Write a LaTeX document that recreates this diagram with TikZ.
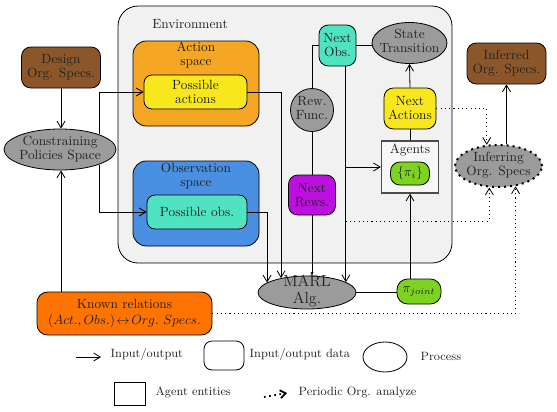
\documentclass[tikz,border=0pt]{standalone}
\usetikzlibrary{arrows.meta,shapes.geometric,calc}
\newcommand{\pxu}{0.75pt}
\newcommand{\ztxt}[1]{\makebox[0pt]{\smash{\raisebox{-2.4pt}{\begin{tabular}{@{}c@{}}#1\end{tabular}}}}}
\definecolor{cEnv}{HTML}{F1F1F1}
\definecolor{cActS}{HTML}{F5A623}
\definecolor{cYel}{HTML}{F8E71C}
\definecolor{cBlue}{HTML}{4A90E2}
\definecolor{cTeal}{HTML}{50E3C2}
\definecolor{cGray}{HTML}{9B9B9B}
\definecolor{cPurp}{HTML}{BD10E0}
\definecolor{cGreen}{HTML}{7ED321}
\definecolor{cBrown}{HTML}{8B572A}
\definecolor{cOrange}{HTML}{FF7300}
\definecolor{cText}{HTML}{222222}
\begin{document}
\begin{tikzpicture}[x=0.75pt,y=-0.75pt,
  font=\fontsize{10}{10.5}\selectfont,
  every node/.style={align=center, text=cText},
  sz/.style 2 args={minimum width=#1*\pxu, minimum height=#2*\pxu},
  base/.style={draw=black, line width=0.6pt, inner sep=0pt},
  data/.style={base, rounded corners=6pt},
  proc/.style={base, ellipse},
  agentbox/.style={draw=black!70, line width=1pt, fill=white!97!black, inner sep=0pt},
  ln/.style={line width=0.6pt},
  arr/.style={line width=0.6pt, -{Straight Barb[length=5pt,width=6pt]}},
  dotarr/.style={line width=0.6pt, dash pattern=on 0.8pt off 2.4pt, -{Straight Barb[length=5pt,width=6pt]}},
  lgtxt/.style={anchor=west, font=\small},
]
\useasboundingbox (0,0) rectangle (557,411);

% environment
\node[data, fill=cEnv, rounded corners=15pt, sz={334}{257}] (env) at (285,134.5) {};
\node (envlbl) at (190,24) {Environment};

% action space
\node[data, fill=cActS, rounded corners=10pt, sz={126}{85}] (actsp) at (196,83.5) {};
\node (actlbl) at (196,55) {Action\\space};
\node[data, fill=cYel, sz={103}{34}] (pact) at (195.5,92) {Possible\\actions};

% observation space
\node[data, fill=cBlue, rounded corners=10pt, sz={126}{85}] (obssp) at (196,203.5) {};
\node (obslbl) at (196,176) {Observation\\space};
\node[data, fill=cTeal, sz={100}{34}] (pobs) at (197,212) {Possible obs.};

% left side
\node[data, fill=cBrown, rounded corners=7pt, sz={79}{41}] (design) at (61,67.5) {Design\\Org. Specs.};
\node[proc, fill=cGray, sz={112}{41}] (constr) at (60,149.5) {\ztxt{Constraining\\Policies Space}};
\node[data, fill=cOrange, rounded corners=8pt, sz={175}{43}, font=\fontsize{10}{12.5}\selectfont] (known) at (124.5,313.5) {Known relations\\$(Act.,Obs.)\!\leftrightarrow\! Org.\ Specs.$};

% env internals
\node[data, fill=cTeal, rounded corners=7pt, sz={37}{41}] (nobs) at (337.5,45.5) {Next\\Obs.};
\node[proc, fill=cGray, sz={75}{41}] (state) at (409.5,43) {\ztxt{State\\Transition}};
\node[proc, circle, fill=cGray, minimum size=43*\pxu] (rew) at (312,110) {\ztxt{Rew.\\Func.}};
\node[data, fill=cPurp, rounded corners=7pt, sz={47}{40}] (nrews) at (312,195) {Next\\Rews.};
\node[data, fill=cYel, rounded corners=7pt, sz={52}{41}] (nact) at (410,108.5) {Next\\Actions};
\node[agentbox, sz={57}{52}] (agents) at (410,167) {};
\node (aglbl) at (410,150) {Agents};
\node[data, fill=cGreen, rounded corners=7pt, sz={39}{23}] (pii) at (410,173.5) {$\{\pi_i\}$};

% bottom / right
\node[proc, fill=cGray, sz={98}{33}] (marl) at (307,292.5) {\fontsize{12}{12.5}\selectfont\ztxt{MARL\\Alg.}};
\node[data, fill=cGreen, rounded corners=8pt, sz={44}{25}] (pj) at (419,291.5) {$\pi_{joint}$};
\node[proc, fill=cGray, sz={87}{42}, line width=1.5pt, dash pattern=on 1.5pt off 3pt] (infer) at (498.5,166) {\ztxt{Inferring\\Org. Specs}};
\node[data, fill=cBrown, rounded corners=7pt, sz={79}{41}] (inferred) at (506.5,63.5) {Inferred\\Org. Specs.};

% connectors
\draw[arr] (design.south) -- (design.south |- constr.north);
\draw[arr] (design.south |- known.north) -- (design.south |- constr.south);
\draw[arr] (constr.21.6) |- (pact.west);
\draw[arr] (constr.-21.6) |- (pobs.west);
\draw[arr] (pact.east) -| (marl.151.7);
\draw[arr] (pobs.east) -| (marl.166.6);
\draw[ln] (nobs.west) -| (rew.north);
\draw[ln] (nobs.east) -- (nobs.east -| state.west);
\draw[ln] (rew.south) -- (nrews.north);
\draw[line width=0.6pt, -{Latex[length=2.5pt,width=2.5pt]}] (nrews.south) -- (nrews.south |- marl.north);
\draw[arr] (nobs.south -| marl.15.3) -- (marl.15.3);
\coordinate (br1) at (marl.15.3 |- agents.west);
\draw[arr] (br1) -- (agents.west);
\coordinate (br2) at (marl.15.3 |- 0,221);
\draw[dotarr] (br2) -| (infer.247.6);
\draw[dotarr] (known.east) -| (infer.310.4);
\draw[dotarr] (nact.east) -| (infer.119.6);
\draw[arr] (nact.north) -- (state.south);
\draw[ln] (agents.north) -- (nact.south);
\draw[ln] (marl.east) -- (marl.east -| pj.west);
\draw[arr] (pj.north -| agents.south) -- (agents.south);
\draw[arr] (infer.north -| inferred.south) -- (inferred.south);

% legend
\coordinate (la) at (76,357);
\coordinate (lb) at (101,357);
\draw[arr] (la) -- (lb);
\node[lgtxt] (t1) at (106,354) {Input/output};
\node[data, sz={40}{29}] (ld) at (224,355.5) {};
\node[lgtxt] (t2) at (245,354) {Input/output data};
\node[proc, sz={44}{30}] (lp) at (385,357) {};
\node[lgtxt] (t3) at (416,356) {Process};
\node[draw=black, line width=0.6pt, sz={31}{23}] (lag) at (129.5,393.5) {};
\node[lgtxt] (t4) at (151,392) {Agent entities};
\coordinate (ls1) at (264,397);
\coordinate (ls2) at (287,393);
\draw[line width=1.3pt, dash pattern=on 1.3pt off 2.6pt, -{Straight Barb[length=4pt,width=6pt]}] (ls1) -- (ls2);
\node[lgtxt] (t5) at (294,392) {Periodic Org. analyze};
\end{tikzpicture}
\end{document}
